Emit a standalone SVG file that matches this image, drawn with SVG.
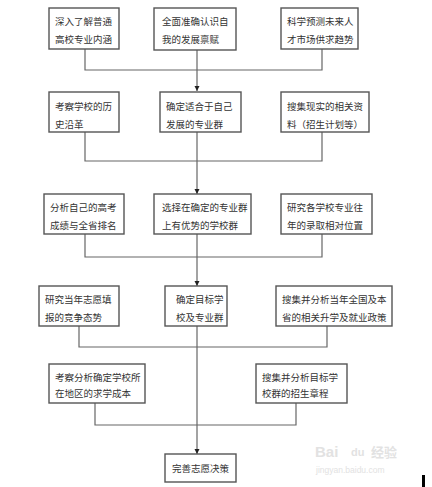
<svg xmlns="http://www.w3.org/2000/svg" width="432" height="487" viewBox="0 0 432 487">
<style>
.box{fill:#fff;stroke:#555;stroke-width:1.4}
.t{font-family:"Liberation Sans","Noto Sans CJK SC",sans-serif;font-size:9.5px;fill:#333}
.c{fill:none;stroke:#666;stroke-width:1.2}
.wm{font-family:"Liberation Sans","Noto Sans CJK SC",sans-serif;fill:#e2e2e2}
</style>
<defs>
<marker id="ah" markerWidth="6" markerHeight="6" refX="5" refY="3" orient="auto" markerUnits="userSpaceOnUse">
<path d="M0,0.5 L5,3 L0,5.5 Z" fill="#222"/>
</marker>
</defs>
<rect width="432" height="487" fill="#fff"/>
<g id="connectors">
<path class="c" d="M85,49 V70 H322 V49"/>
<path class="c" d="M197,50 V91" marker-end="url(#ah)"/>
<path class="c" d="M85,132 V161 H322 V132"/>
<path class="c" d="M197,132 V194" marker-end="url(#ah)"/>
<path class="c" d="M85,234 V257 H322 V234"/>
<path class="c" d="M197,234 V286" marker-end="url(#ah)"/>
<path class="c" d="M79,326 V347 H327 V326"/>
<path class="c" d="M95,403 V425 H296 V403"/>
<path class="c" d="M197,326 V454" marker-end="url(#ah)"/>
</g>
<g id="n1"><rect class="box" x="49" y="8" width="70" height="41"/><text class="t" x="55" y="24.5">深入了解普通</text><text class="t" x="55" y="42.5">高校专业内涵</text></g>
<g id="n2"><rect class="box" x="154" y="8" width="82" height="42"/><text class="t" x="162" y="24.5">全面准确认识自</text><text class="t" x="162" y="42.5">我的发展禀赋</text></g>
<g id="n3"><rect class="box" x="281" y="8" width="77" height="41"/><text class="t" x="287" y="24.5">科学预测未来人</text><text class="t" x="287" y="42.5">才市场供求趋势</text></g>
<g id="n4"><rect class="box" x="49" y="92" width="70" height="40"/><text class="t" x="55" y="109.5">考察学校的历</text><text class="t" x="55" y="127.5">史沿革</text></g>
<g id="n5"><rect class="box" x="160" y="92" width="81" height="40"/><text class="t" x="166" y="109.5">确定适合于自己</text><text class="t" x="166" y="127.5">发展的专业群</text></g>
<g id="n6"><rect class="box" x="281" y="92" width="88" height="40"/><text class="t" x="287" y="109.5">搜集现实的相关资</text><text class="t" x="287" y="127.5">料（招生计划等）</text></g>
<g id="n7"><rect class="box" x="44" y="194" width="80" height="40"/><text class="t" x="50" y="210.5">分析自己的高考</text><text class="t" x="50" y="228.5">成绩与全省排名</text></g>
<g id="n8"><rect class="box" x="154" y="194" width="97" height="40"/><text class="t" x="162" y="210.5">选择在确定的专业群</text><text class="t" x="162" y="228.5">上有优势的学校群</text></g>
<g id="n9"><rect class="box" x="281" y="194" width="91" height="40"/><text class="t" x="287" y="210.5">研究各学校专业往</text><text class="t" x="287" y="228.5">年的录取相对位置</text></g>
<g id="n10"><rect class="box" x="39" y="286" width="80" height="40"/><text class="t" x="45" y="302.5">研究当年志愿填</text><text class="t" x="45" y="320.5">报的竞争态势</text></g>
<g id="n11"><rect class="box" x="165" y="286" width="62" height="40"/><text class="t" x="176" y="302.5">确定目标学</text><text class="t" x="176" y="320.5">校及专业群</text></g>
<g id="n12"><rect class="box" x="276" y="286" width="116" height="40"/><text class="t" x="282" y="302.5">搜集并分析当年全国及本</text><text class="t" x="282" y="320.5">省的相关升学及就业政策</text></g>
<g id="n13"><rect class="box" x="49" y="364" width="96" height="39"/><text class="t" x="55" y="380.5">考察分析确定学校所</text><text class="t" x="55" y="396.5">在地区的求学成本</text></g>
<g id="n14"><rect class="box" x="256" y="364" width="91" height="39"/><text class="t" x="262" y="380.5">搜集并分析目标学</text><text class="t" x="262" y="396.5">校群的招生章程</text></g>
<g id="n15"><rect class="box" x="165" y="454" width="71" height="28"/><text class="t" x="172" y="471.5">完善志愿决策</text></g>
<text class="wm" x="315" y="457" font-size="15" font-weight="bold">Bai</text>
<text class="wm" x="351" y="456" font-size="11" font-weight="bold">du</text>
<text class="wm" x="371" y="457" font-size="13" font-weight="bold">经验</text>
<text class="wm" x="316" y="473" font-size="8.5">jingyan.baidu.com</text>
<rect x="422" y="475" width="3" height="12" fill="#000"/>
</svg>
